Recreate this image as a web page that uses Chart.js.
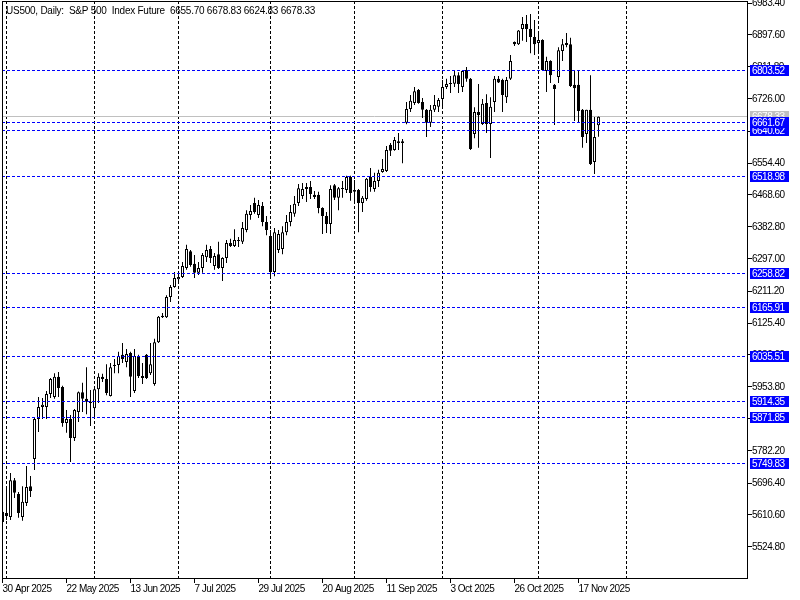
<!DOCTYPE html>
<html><head><meta charset="utf-8">
<script src="https://cdn.jsdelivr.net/npm/chart.js@4.4.1/dist/chart.umd.min.js"></script>
<style>html,body{margin:0;padding:0;background:#fff;overflow:hidden}</style>
</head><body><canvas id="c" width="800" height="600"></canvas>
<script>
// ---- data (daily OHLC, index 0 = 30 Apr 2025) ----
const open = [5619,5616,5605,5704,5667,5605,5643,5688,5761,5868,5900,5900,5935,5927,5981,5954,5857,5868,5817,5887,
5940,5922,5914,5897,5948,5981,5975,5930,6010,6013,6040,6021,6045,5943,6037,5978,6040,5991,5962,6074,
6145,6141,6195,6222,6243,6249,6273,6318,6284,6260,6273,6302,6324,6278,6310,6273,6300,6340,6332,6345,
6343,6375,6415,6447,6415,6439,6396,6359,6262,6321,6324,6369,6396,6418,6447,6466,6485,6490,6469,6469,
6434,6412,6391,6495,6461,6485,6482,6517,6482,6482,6447,6458,6517,6485,6506,6530,6533,6603,6589,6608,
6613,6662,6699,6715,6750,6718,6697,6662,6697,6705,6726,6758,6766,6767,6790,6758,6804,6780,6632,6691,
6659,6715,6659,6718,6780,6777,6731,6780,6879,6873,6914,6927,6914,6892,6876,6884,6801,6828,6764,6785,
6855,6871,6873,6764,6764,6697,6632,6697,6557,6655.70];
const high = [5624,5683,5723,5710,5672,5688,5742,5715,5871,5927,5924,5943,5978,5991,5994,5957,5892,5879,5895,5942,
5965,6007,5946,5950,5991,5989,6015,6018,6029,6048,6072,6056,6048,6056,6040,6018,6042,6072,6083,6144,
6152,6200,6227,6262,6262,6289,6335,6321,6308,6289,6313,6335,6332,6313,6343,6302,6348,6351,6377,6356,
6396,6428,6442,6461,6455,6450,6412,6375,6380,6375,6385,6415,6442,6466,6498,6501,6501,6506,6479,6477,
6436,6423,6495,6498,6490,6506,6520,6520,6509,6485,6466,6514,6541,6528,6536,6565,6600,6608,6624,6635,
6619,6718,6737,6758,6753,6729,6699,6710,6737,6729,6777,6780,6788,6801,6798,6804,6812,6782,6704,6766,
6726,6739,6731,6788,6788,6780,6785,6844,6880,6911,6946,6951,6954,6938,6906,6886,6839,6830,6766,6865,
6887,6903,6890,6801,6804,6699,6697,6790,6678,6678.83];
const low = [5576,5597,5597,5656,5603,5595,5635,5659,5731,5833,5868,5868,5924,5922,5927,5847,5831,5753,5809,5860,
5887,5881,5849,5871,5911,5967,5932,5928,5991,5991,6018,6007,5927,5938,5978,5962,5975,5986,5957,6072,
6139,6139,6182,6220,6238,6246,6268,6276,6246,6254,6260,6289,6286,6268,6270,6238,6286,6329,6329,6329,
6337,6369,6402,6418,6407,6385,6361,6246,6251,6313,6310,6361,6385,6410,6439,6458,6450,6458,6458,6420,
6364,6367,6364,6455,6428,6461,6474,6453,6447,6369,6423,6453,6477,6477,6490,6528,6530,6573,6587,6589,
6554,6658,6691,6710,6713,6675,6624,6651,6691,6691,6705,6753,6742,6758,6742,6745,6772,6589,6621,6595,
6656,6635,6568,6691,6769,6691,6715,6777,6868,6871,6882,6879,6849,6844,6849,6801,6745,6769,6656,6769,
6828,6865,6758,6667,6662,6595,6608,6549,6525,6624.83];
const close = [5592,5608,5704,5670,5616,5646,5686,5675,5868,5900,5906,5935,5975,5981,5951,5857,5868,5817,5892,5940,
5922,5914,5911,5948,5981,5975,5938,6007,6013,6037,6029,6042,5981,6037,5983,5983,5978,6015,6074,6142,
6141,6195,6222,6246,6249,6278,6324,6281,6260,6273,6308,6321,6300,6305,6273,6300,6340,6332,6348,6348,
6380,6418,6426,6423,6442,6396,6375,6262,6369,6364,6369,6396,6423,6445,6487,6485,6490,6471,6463,6434,
6412,6391,6485,6461,6487,6487,6517,6474,6477,6447,6461,6512,6490,6506,6528,6538,6589,6587,6616,6613,
6608,6699,6721,6747,6715,6697,6662,6697,6710,6723,6758,6766,6767,6790,6766,6801,6780,6592,6691,6683,
6713,6659,6705,6780,6770,6737,6777,6828,6873,6910,6927,6914,6892,6873,6884,6804,6828,6790,6753,6857,
6873,6876,6761,6755,6694,6624,6697,6552,6624,6678.33];

// tick labels
const xTickIdx = [0,16,32,48,64,80,96,112,128,144];
const xTickLabels = ['30 Apr 2025','22 May 2025','13 Jun 2025','7 Jul 2025','29 Jul 2025','20 Aug 2025','11 Sep 2025','3 Oct 2025','26 Oct 2025','17 Nov 2025'];
const monthStartIdx = [1,23,44,67,88,110,134,156];
const yTicks = [5524.80,5610.60,5696.40,5782.20,5868.00,5953.80,6039.60,6125.40,6211.20,6297.00,6382.80,6468.60,6554.40,6640.20,6726.00,6811.80,6897.60,6983.40];
const levels = [5749.83,5871.85,5914.35,6035.51,6165.91,6258.82,6518.98,6640.62,6661.67,6803.52];
const bid = 6678.33;
const symbolTitle = 'US500, Daily:  S&P 500  Index Future';

// ---- chart ----
const FONT = '10px "Liberation Sans"';
Chart.defaults.font.family = '"Liberation Sans"';
Chart.defaults.font.size = 10;
Chart.defaults.color = '#000';

const idx = open.map((_, i) => i);
const bodyData = idx.map(i => ({x: i, y: [Math.min(open[i], close[i]), Math.max(open[i], close[i])]}));
const wickData = idx.map(i => ({x: i, y: [low[i], high[i]]}));
const bodyFill = idx.map(i => close[i] >= open[i] ? '#ffffff' : '#000000');

const pxPerPrice = 2.68125;
const yMax = 6983.40 + 2 * pxPerPrice;
const yMin = yMax - 577 * pxPerPrice;

const overlay = {
  id: 'mtOverlay',
  beforeLayout(chart) { chart.ctx.letterSpacing = '-0.5px'; },
  beforeDraw(chart) { chart.ctx.letterSpacing = '-0.5px'; },
  beforeDatasetsDraw(chart) {
    const {ctx, chartArea: a, scales: {x, y}} = chart;
    ctx.save();
    ctx.lineWidth = 1;
    ctx.strokeStyle = '#000';
    ctx.setLineDash([3, 2]);
    monthStartIdx.forEach(m => {
      const px = Math.floor(x.getPixelForValue(m)) + 0.5;
      if (px > a.right) return;
      ctx.beginPath(); ctx.moveTo(px, a.top); ctx.lineTo(px, a.bottom); ctx.stroke();
    });
    ctx.setLineDash([]);
    ctx.strokeStyle = '#c0c0c0';
    const by = Math.floor(y.getPixelForValue(bid)) + 0.5;
    ctx.beginPath(); ctx.moveTo(a.left, by); ctx.lineTo(a.right, by); ctx.stroke();
    ctx.restore();
  },
  afterDatasetsDraw(chart) {
    const {ctx, chartArea: a, scales: {y}} = chart;
    ctx.save();
    ctx.lineWidth = 1;
    ctx.strokeStyle = '#0000ff';
    ctx.setLineDash([3, 2]);
    levels.forEach(v => {
      const py = Math.floor(y.getPixelForValue(v)) + 0.5;
      ctx.beginPath(); ctx.moveTo(a.left, py); ctx.lineTo(a.right, py); ctx.stroke();
    });
    ctx.restore();
  },
  afterDraw(chart) {
    const {ctx, chartArea: a, scales: {y}} = chart;
    ctx.save();
    ctx.letterSpacing = '-0.5px';
    ctx.setLineDash([]);
    ctx.lineWidth = 1;
    ctx.strokeStyle = '#000';
    ctx.strokeRect(a.left + 0.5, a.top + 0.5, a.right - a.left, a.bottom - a.top);
    ctx.font = FONT;
    ctx.textAlign = 'left';
    ctx.textBaseline = 'alphabetic';
    const box = (v, color) => {
      const py = Math.floor(y.getPixelForValue(v));
      ctx.fillStyle = color;
      ctx.fillRect(a.right + 3, py - 5, 39, 11);
      ctx.fillStyle = '#ffffff';
      ctx.fillText(v.toFixed(2), a.right + 5, py + 4);
    };
    box(bid, '#c0c0c0');
    levels.forEach(v => box(v, '#0000ff'));
    const n = open.length - 1;
    const t = symbolTitle + '  ' + [open[n], high[n], low[n], close[n]].map(v => v.toFixed(2)).join(' ');
    ctx.letterSpacing = '-0.25px';
    ctx.fillStyle = '#000';
    ctx.fillText(t, 6, 14);
    ctx.restore();
  }
};

new Chart(document.getElementById('c'), {
  type: 'bar',
  data: {
    datasets: [
      {label: 'body', data: bodyData, backgroundColor: bodyFill, borderColor: '#000', borderWidth: 1,
       borderSkipped: false, barThickness: 3, grouped: false, minBarLength: 1, inflateAmount: 0, order: 0},
      {label: 'wick', data: wickData, backgroundColor: '#000', borderWidth: 0,
       barThickness: 1, grouped: false, inflateAmount: 0, order: 1}
    ]
  },
  options: {
    responsive: false,
    animation: false,
    events: [],
    layout: {padding: {left: 2, top: 1, right: 0, bottom: 0}},
    plugins: {legend: {display: false}, tooltip: {enabled: false}},
    scales: {
      x: {
        type: 'linear', position: 'bottom', min: -0.125, max: 186.125, offset: false, bounds: 'data',
        afterBuildTicks: s => { s.ticks = xTickIdx.map(v => ({value: v})); },
        afterFit: s => { s.height = 22; s.paddingLeft = 0; s.paddingRight = 0; },
        ticks: {autoSkip: false, maxRotation: 0, minRotation: 0, align: 'start', padding: 0,
          callback: v => { const k = xTickIdx.indexOf(v); return k >= 0 ? xTickLabels[k] : ''; }},
        grid: {offset: false, drawOnChartArea: false, drawTicks: true, tickLength: 5, color: '#000'},
        border: {display: false}
      },
      y: {
        type: 'linear', position: 'right', min: yMin, max: yMax,
        afterBuildTicks: s => { s.ticks = yTicks.map(v => ({value: v})); },
        afterFit: s => { s.width = 53; s.paddingTop = 0; s.paddingBottom = 0; },
        ticks: {padding: 0, callback: v => Number(v).toFixed(2)},
        grid: {drawOnChartArea: false, drawTicks: true, tickLength: 5, color: '#000'},
        border: {display: false}
      }
    }
  },
  plugins: [overlay]
});
</script>
</body></html>
